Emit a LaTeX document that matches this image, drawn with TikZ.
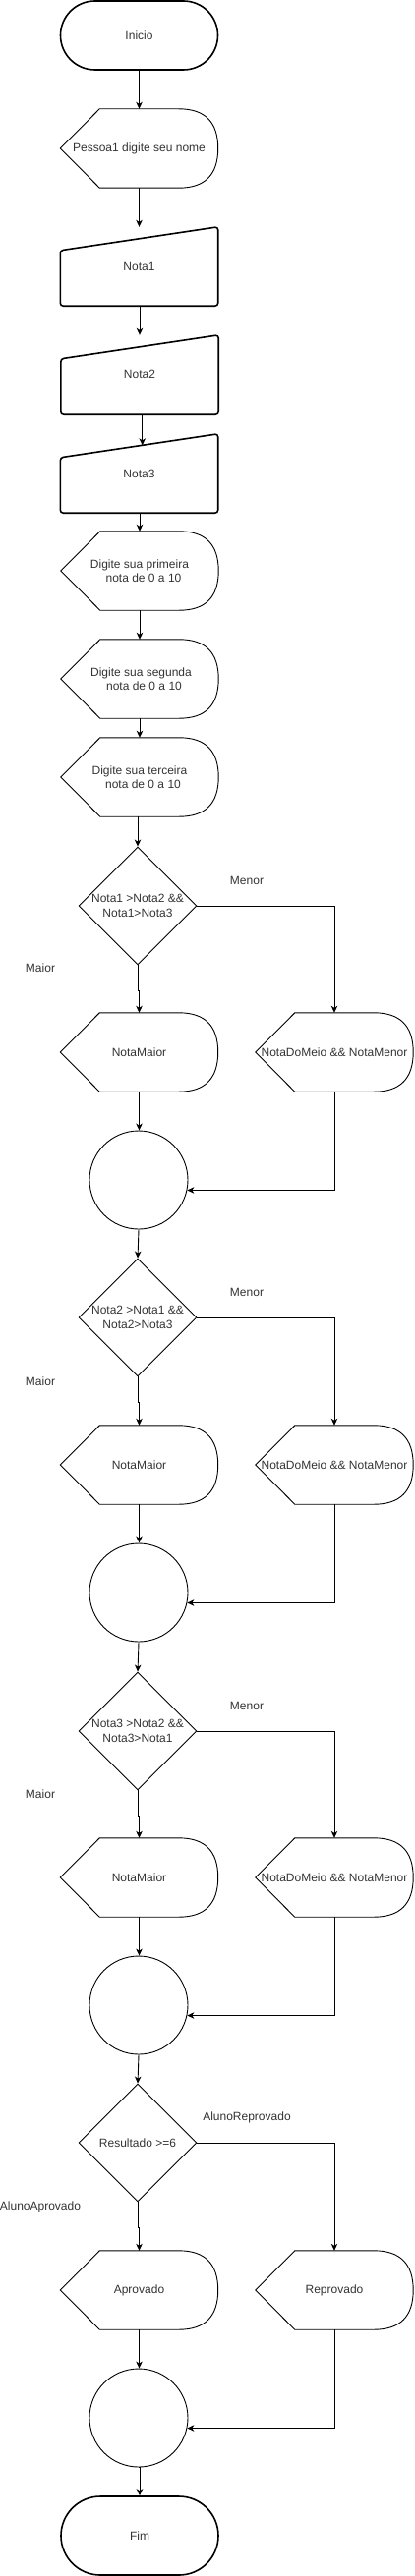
\documentclass[tikz,border=0pt]{standalone}
\usepackage{fontspec}
\setmainfont{Liberation Sans}
\usetikzlibrary{arrows.meta,calc,shapes.geometric}
\newcommand\dispshape[1]{\draw[shp] (#1.west) -- ([xshift=40pt]#1.north west) -- ([xshift=-40pt]#1.north east) .. controls ([xshift=-13.33pt]#1.north east) and ([yshift=-13.33pt]#1.north east) .. (#1.east) .. controls ([yshift=13.33pt]#1.south east) and ([xshift=-13.33pt]#1.south east) .. ([xshift=-40pt]#1.south east) -- ([xshift=40pt]#1.south west) -- cycle;}
\newcommand\manshape[1]{\draw[thk,rounded corners=3pt] (#1.south west) -- ([yshift=-24pt]#1.north west) -- (#1.north east) -- (#1.south east) -- cycle;}
\begin{document}
\begin{tikzpicture}[x=1pt,y=-1pt,
  font=\fontsize{12}{14.5}\selectfont, text=black!80,
  box/.style={minimum width=160pt,minimum height=80pt,inner sep=0pt,align=center},
  term/.style={draw=black,line width=1.6pt,minimum width=160pt,inner sep=0pt},
  shp/.style={draw=black,line width=0.9pt},
  thk/.style={draw=black,line width=1.6pt},
  dia/.style={diamond,draw=black,line width=0.9pt,minimum width=120pt,minimum height=120pt,inner sep=0pt},
  circ/.style={circle,draw=black,line width=0.9pt,minimum size=100pt,inner sep=0pt},
  lbl/.style={inner sep=0pt},
  arr/.style={draw=black,line width=0.9pt,-{Stealth[length=7pt,width=6.5pt,inset=2pt]}}
]
\useasboundingbox (0,0) rectangle (421,2622);
% nodes
\node[term,minimum height=70pt,rounded corners=35pt] (ini) at (141.5,36) {Inicio};
\node[box] (p1) at (141.5,151) {Pessoa1 digite seu nome};
\node[box] (n1) at (141.5,271) {Nota1};
\node[box] (n2) at (142,381) {Nota2};
\node[box] (n3) at (141.5,482) {Nota3};
\node[box] (q1) at (142,581) {Digite sua primeira\\\hspace*{8pt}nota de 0 a 10};
\node[box] (q2) at (142,691) {\hspace*{3pt}Digite sua segunda\\\hspace*{9pt}nota de 0 a 10};
\node[box] (q3) at (142,791) {Digite sua terceira\\\hspace*{7pt}nota de 0 a 10};
\dispshape{p1}
\manshape{n1}
\manshape{n2}
\manshape{n3}
\dispshape{q1}
\dispshape{q2}
\dispshape{q3}

\node[dia,label={[align=center,lbl]center:Nota1 >Nota2 \&\&\\Nota1>Nota3}] (d1) at (140,922) {};
\node[box] (m1) at (141.5,1071) {NotaMaior};
\node[box] (r1) at (340,1071) {NotaDoMeio \&\& NotaMenor};
\node[circ] (c1) at (141,1201) {};

\node[dia,label={[align=center,lbl]center:Nota2 >Nota1 \&\&\\Nota2>Nota3}] (d2) at (140,1341) {};
\node[box] (m2) at (141.5,1491) {NotaMaior};
\node[box] (r2) at (340,1491) {NotaDoMeio \&\& NotaMenor};
\node[circ] (c2) at (141,1621) {};

\node[dia,label={[align=center,lbl]center:Nota3 >Nota2 \&\&\\Nota3>Nota1}] (d3) at (140,1762) {};
\node[box] (m3) at (141.5,1911) {NotaMaior};
\node[box] (r3) at (340,1911) {NotaDoMeio \&\& NotaMenor};
\node[circ] (c3) at (141,2041) {};

\node[dia,label={[lbl]center:Resultado >=6}] (d4) at (140,2181) {};
\node[box] (ap) at (141.5,2331) {Aprovado};
\node[box] (rp) at (340,2331) {Reprovado};
\node[circ] (c4) at (141,2461) {};

\node[term,minimum height=80pt,rounded corners=40pt] (fim) at (142,2581) {Fim};

\dispshape{m1}\dispshape{r1}
\dispshape{m2}\dispshape{r2}
\dispshape{m3}\dispshape{r3}
\dispshape{ap}\dispshape{rp}

% labels
\node[lbl] (lmen1) at (251,896) {Menor};
\node[lbl] (lmai1) at (41,985) {Maior};
\node[lbl] (lmen2) at (251,1315) {Menor};
\node[lbl] (lmai2) at (41,1406) {Maior};
\node[lbl] (lmen3) at (251,1736) {Menor};
\node[lbl] (lmai3) at (41,1826) {Maior};
\node[lbl] (lrep) at (251,2155) {AlunoReprovado};
\node[lbl] (lapr) at (41,2246) {AlunoAprovado};

% connectors
\coordinate (n3in) at ($([yshift=-24pt]n3.north west)!0.52!(n3.north east)$);
\draw[arr] (ini.south) -- (p1.north);
\draw[arr] (p1.south) -- (n1.north);
\draw[arr] (n2.north |- n1.south) -- (n2.north);
\draw[arr] (n2.south -| n3in) -- (n3in);
\draw[arr] (q1.north |- n3.south) -- (q1.north);
\draw[arr] (q1.south) -- (q2.north);
\draw[arr] (q2.south) -- (q3.north);
\draw[arr] (d1.north |- q3.south) -- (d1.north);

\draw[arr] (d1.south) -- ++(0,26) -| (m1.north);
\draw[arr] (d1.east) -| (r1.north);
\draw[arr] (m1.south) -- (m1.south |- c1.north);
\draw[arr] (r1.south) |- (c1.-12.7);
\draw[arr] (c1.south) -- (d2.north);

\draw[arr] (d2.south) -- ++(0,26) -| (m2.north);
\draw[arr] (d2.east) -| (r2.north);
\draw[arr] (m2.south) -- (m2.south |- c2.north);
\draw[arr] (r2.south) |- (c2.-12.7);
\draw[arr] (c2.south) -- (d3.north);

\draw[arr] (d3.south) -- ++(0,26) -| (m3.north);
\draw[arr] (d3.east) -| (r3.north);
\draw[arr] (m3.south) -- (m3.south |- c3.north);
\draw[arr] (r3.south) |- (c3.-12.7);
\draw[arr] (c3.south) -- (d4.north);

\draw[arr] (d4.south) -- ++(0,26) -| (ap.north);
\draw[arr] (d4.east) -| (rp.north);
\draw[arr] (ap.south) -- (ap.south |- c4.north);
\draw[arr] (rp.south) |- (c4.-12.7);
\draw[arr] (c4.south) -- (c4.south -| fim.north) -- (fim.north);
\end{tikzpicture}
\end{document}
